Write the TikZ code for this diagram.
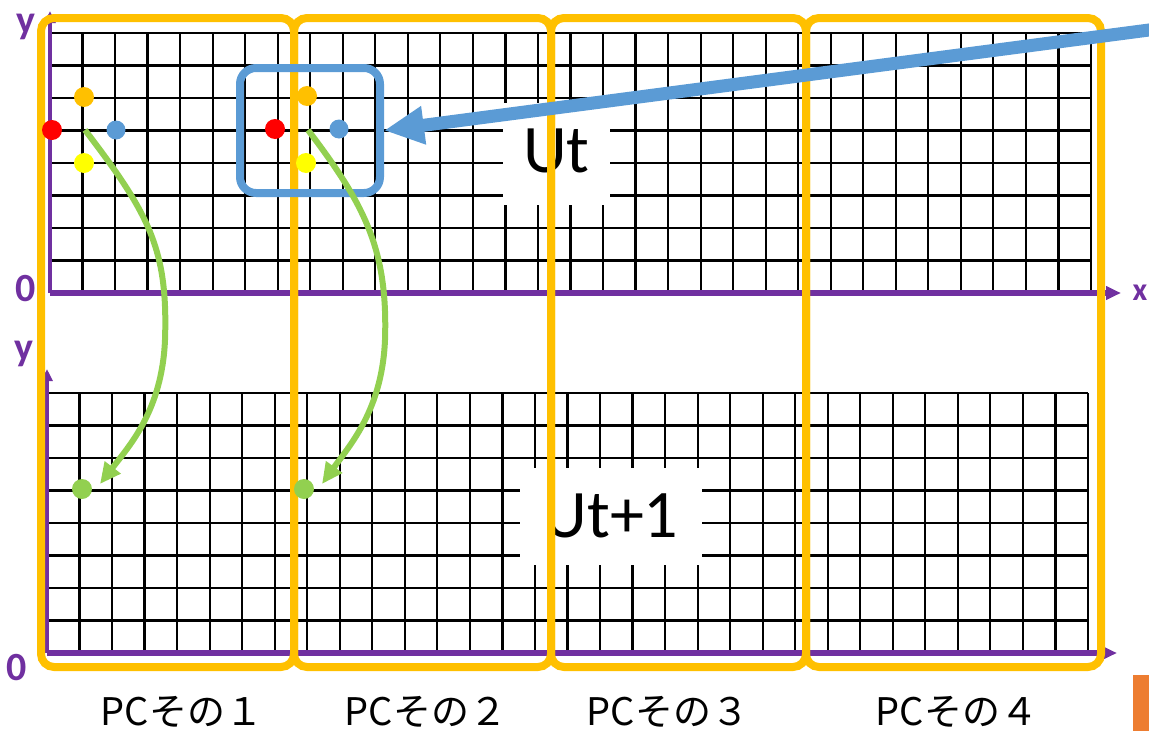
\documentclass[tikz,border=0pt]{standalone}
\usepackage{fontspec}
\setmainfont{Carlito}
\newfontfamily\jpfont{Noto Sans CJK JP}
\usetikzlibrary{arrows.meta}
\definecolor{gold}{HTML}{FFC000}
\definecolor{axispurple}{HTML}{7030A0}
\definecolor{steel}{HTML}{5B9BD5}
\definecolor{leaf}{HTML}{92D050}
\definecolor{dotred}{HTML}{FF0000}
\definecolor{dotyellow}{HTML}{FFFF00}
\definecolor{tab}{HTML}{ED7D31}

\begin{document}
\begin{tikzpicture}[x=1pt,y=-1pt,
  gridline/.style={black, line width=2.2pt},
  axisline/.style={axispurple, line width=5.5pt, -{Triangle[length=15pt,width=13pt]}},
  yaxisline/.style={axispurple, line width=4pt, -{Triangle[length=12pt,width=11pt]}},
  axislabel/.style={text=axispurple, inner sep=0pt, font=\fontsize{40}{40}\selectfont\bfseries},
  tag/.style={fill=white, inner sep=0pt, text height=69pt, align=center,
              font=\fontsize{68}{70}\selectfont},
  pcbox/.style={draw=gold, line width=8pt, rounded corners=13pt, inner sep=0pt,
                minimum height=649pt},
  halo/.style={draw=steel, line width=8pt, rounded corners=16pt, inner sep=0pt,
               minimum width=140pt, minimum height=125pt},
  feed/.style={steel, line width=13pt, -{Triangle[length=40pt,width=36pt]}},
  move/.style={leaf, line width=6pt, -{Triangle[length=21pt,width=19pt]}},
  dot/.style={circle, inner sep=0pt, minimum size=20pt},
  pclabel/.style={anchor=base, inner sep=0pt, font=\jpfont\fontsize{38}{40}\selectfont}
]
\useasboundingbox (0,0) rectangle (1149,731);

% grid of step t (upper) and step t+1 (lower)
\foreach \i in {0,...,32}
  \draw[gridline] ({50+\i*32.53},33) -- ({50+\i*32.53},293);
\foreach \j in {0,...,8}
  \draw[gridline] (50,{33+\j*32.5}) -- (1091,{33+\j*32.5});
\foreach \i in {0,...,32}
  \draw[gridline] ({47+\i*32.53},393) -- ({47+\i*32.53},653);
\foreach \j in {0,...,8}
  \draw[gridline] (47,{393+\j*32.5}) -- (1088,{393+\j*32.5});

% axes
\draw[axisline] (50,293) -- (1121,293);
\draw[yaxisline] (50,293) -- (50,11);
\draw[axisline] (47,653) -- (1117,653);
\draw[yaxisline] (47,653) -- (47,369);

\node[axislabel] (y1) at (26,27) {y};
\node[axislabel] (o1) at (26,289) {0};
\node[axislabel] (y2) at (24,354) {y};
\node[axislabel] (o2) at (17,668) {0};
\node[axislabel, font=\fontsize{32}{32}\selectfont\bfseries] (xl) at (1140,293) {x};

% field labels on white
\node[tag, minimum width=107pt, text depth=33pt] (ut) at (556.5,154) {Ut};
\node[tag, minimum width=182pt, text depth=28pt] (ut1) at (611,516.5) {Ut+1};

% one box per PC
\node[pcbox, minimum width=253pt] (pc1) at (167.5,342.5) {};
\node[pcbox, minimum width=257pt] (pc2) at (422.5,342.5) {};
\node[pcbox, minimum width=255pt] (pc3) at (678.5,342.5) {};
\node[pcbox, minimum width=295pt] (pc4) at (953.5,342.5) {};

% neighbourhood crossing the PC boundary
\node[halo] (nb) at (310,130.5) {};
\coordinate (src) at (1162,28.3);
\draw[feed] (src) -- (nb.east);

% stencil updates
\coordinate (s1) at (85,130);
\coordinate (e1) at (100,484);
\coordinate (s2) at (308,130);
\coordinate (e2) at (322,484);
\draw[move] (s1) .. controls (150,215) and (168,250) .. (165,340)
                 .. controls (162,410) and (130,445) .. (e1);
\draw[move] (s2) .. controls (365,205) and (388,250) .. (385,340)
                 .. controls (382,410) and (350,445) .. (e2);

% stencil points
\node[dot, fill=gold] (a1) at (84,97) {};
\node[dot, fill=dotred] (b1) at (52,130) {};
\node[dot, fill=steel, minimum size=19pt] (c1) at (116,130) {};
\node[dot, fill=dotyellow] (d1) at (84,163) {};
\node[dot, fill=gold] (a2) at (307,96) {};
\node[dot, fill=dotred] (b2) at (275,129) {};
\node[dot, fill=steel, minimum size=19pt] (c2) at (339,129) {};
\node[dot, fill=dotyellow] (d2) at (306,163) {};
\node[dot, fill=leaf] (g1) at (82,489) {};
\node[dot, fill=leaf] (g2) at (304,489) {};

% PC names
\node[pclabel] (n1) at (182,725) {PCその１};
\node[pclabel] (n2) at (426,725) {PCその２};
\node[pclabel] (n3) at (668,725) {PCその３};
\node[pclabel] (n4) at (957,725) {PCその４};

\fill[tab] (1133,675) rectangle (1149,731);
\end{tikzpicture}
\end{document}
